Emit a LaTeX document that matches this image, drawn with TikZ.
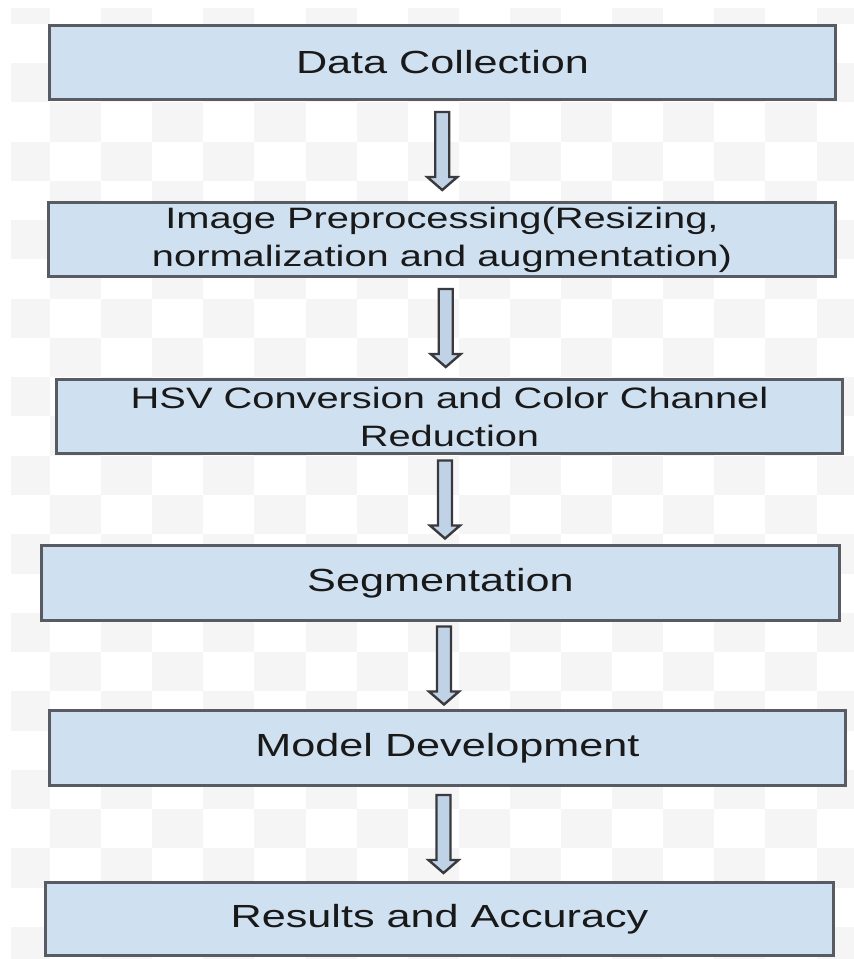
\documentclass[tikz,border=0pt]{standalone}
\usepackage{fontspec}
\setmainfont{Liberation Sans}
\newfontfamily\boxfont[FakeStretch=1.35]{Liberation Sans}
\usetikzlibrary{calc}

\definecolor{boxfill}{RGB}{207,224,241}
\definecolor{boxline}{RGB}{88,92,98}
\definecolor{arrowfill}{RGB}{192,211,230}
\definecolor{arrowline}{RGB}{58,58,62}
\definecolor{checker}{RGB}{245,245,245}
\definecolor{textcol}{RGB}{25,25,25}

\tikzset{
  stage/.style={draw=boxline, fill=boxfill, line width=3.5pt, inner sep=0pt,
    text=textcol, align=center, font={\boxfont\fontsize{32}{38}\selectfont}},
  stagetwo/.style={stage, font={\boxfont\fontsize{29.5}{38}\selectfont}},
  flowarrow/.style={draw=arrowline, fill=arrowfill, line width=2.4pt, line join=miter}
}

% block arrow centred in the gap between two stacked stages
\newcommand\flowarrow[2]{%
  \draw[flowarrow] let \p1=(#1.south), \p2=(#2.north),
      \n1={(\x1+\x2)/2}, \n2={(\y1+\y2)/2} in
    (\n1-7,\n2+39) -- (\n1+7,\n2+39) -- (\n1+7,\n2-26) -- (\n1+15,\n2-26)
    -- (\n1,\n2-39) -- (\n1-15,\n2-26) -- (\n1-7,\n2-26) -- cycle;}

\begin{document}
\begin{tikzpicture}[x=1pt, y=1pt]
\useasboundingbox (0,0) rectangle (854,-959);
\fill[white] (0,0) rectangle (854,-959);

% faint chequered backdrop
\begin{scope}
  \clip (11,-8) rectangle (854,-959);
  \foreach \r in {0,...,24} {
    \foreach \c in {0,...,16} {
      \ifodd\numexpr\r+\c\relax\else
        \fill[checker] ({50+51.1*(\c-1)},{-(63+39.27*(\r-2))})
          rectangle ({50+51.1*\c},{-(63+39.27*(\r-1))});
      \fi
    }
  }
\end{scope}

% process stages
\node[stage, minimum width=786pt, minimum height=74pt] (b1) at (442.5,-62.5) {Data Collection};
\node[stagetwo, minimum width=787pt, minimum height=74pt] (b2) at (442,-239.5)
  {Image Preprocessing(Resizing,\\normalization and augmentation)};
\node[stagetwo, minimum width=786pt, minimum height=74pt] (b3) at (449.5,-416.5)
  {HSV Conversion and Color Channel\\Reduction};
\node[stage, minimum width=798pt, minimum height=75pt] (b4) at (440.5,-583) {Segmentation};
\node[stage, minimum width=796pt, minimum height=75pt] (b5) at (447.5,-748) {Model Development};
\node[stage, minimum width=788pt, minimum height=73pt] (b6) at (439.5,-919) {Results and Accuracy};

% connectors
\flowarrow{b1}{b2}
\flowarrow{b2}{b3}
\flowarrow{b3}{b4}
\flowarrow{b4}{b5}
\flowarrow{b5}{b6}
\end{tikzpicture}
\end{document}
